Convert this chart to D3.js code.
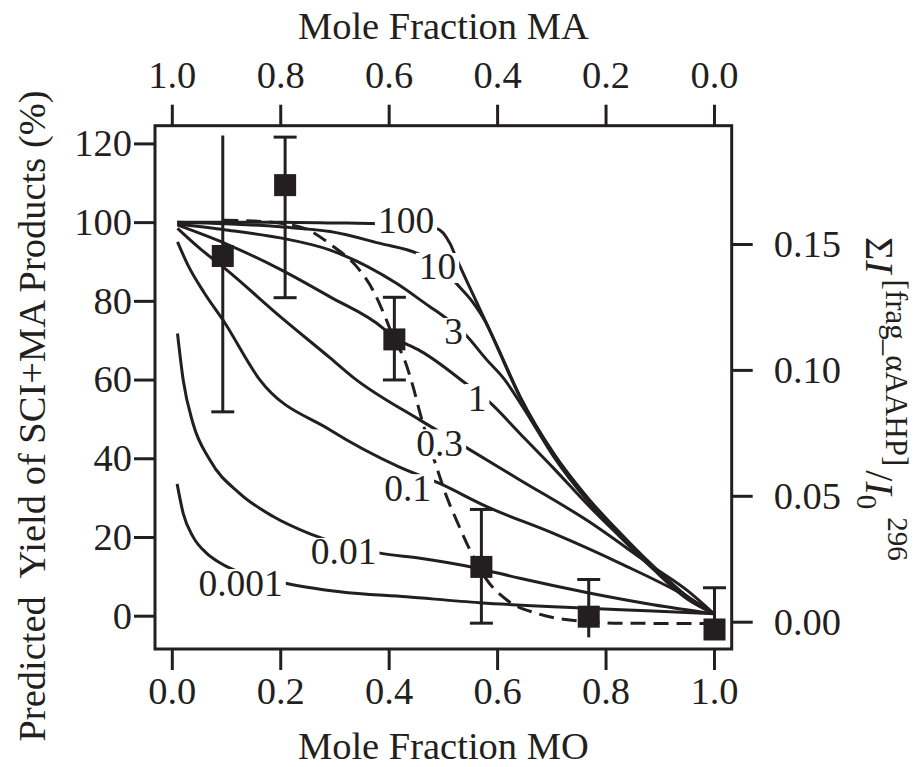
<!DOCTYPE html>
<html>
<head>
<meta charset="utf-8">
<script src="https://cdn.jsdelivr.net/npm/d3@7"></script>
<style>
  html, body { margin: 0; padding: 0; background: #fff; }
  svg text { font-family: "Liberation Serif", "Times New Roman", serif; fill: #231f20; }
</style>
</head>
<body>
<svg id="chart" width="914" height="767"></svg>
<script>
// ---------- data ----------
const xTicksMO = [0.0, 0.2, 0.4, 0.6, 0.8, 1.0];
const xTicksMA = [1.0, 0.8, 0.6, 0.4, 0.2, 0.0];
const yTicksLeft = [0, 20, 40, 60, 80, 100, 120];
const yTicksRight = [0.00, 0.05, 0.10, 0.15];

// measured yields (squares) with error bars
const ptMO   = [0.094, 0.209, 0.4105, 0.571, 0.769, 1.001];
const ptVal  = [91.4, 109.4, 70.2, 12.4, -0.25, -3.5];
const ptHi   = [122.0, 121.6, 80.9, 27.0, 9.2, 7.1];
const ptLo   = [51.8, 80.8, 59.9, -1.9, -5.5, -3.5];
const ptCapHi = [false, true, true, true, true, true];
const ptCapLo = [true, true, true, true, false, false];

// model curves: parameter label, MO values, yields
const curveNames = ["100", "10", "3", "1", "0.3", "0.1", "0.01", "0.001"];
const c100x = [0.01, 0.1, 0.2, 0.3, 0.38, 0.488, 0.513, 0.525, 0.556, 0.6, 0.642, 0.704, 0.765, 0.827, 0.888, 0.95, 1.0];
const c100y = [100, 100, 100, 99.8, 99.6, 98.4, 94.6, 90.8, 81.5, 68.5, 55.8, 41.3, 30.3, 21.0, 12.6, 5.0, 0.5];
const c10x = [0.01, 0.1, 0.2, 0.292, 0.384, 0.454, 0.5, 0.525, 0.556, 0.58, 0.6, 0.642, 0.704, 0.765, 0.827, 0.888, 0.95, 1.0];
const c10y = [100, 99.6, 98.8, 97.6, 94.6, 92.0, 88.5, 84.4, 79.5, 74.3, 68.3, 55.6, 41.1, 30.1, 20.8, 12.4, 4.9, 0.5];
const c3x = [0.01, 0.1, 0.2, 0.292, 0.415, 0.476, 0.498, 0.541, 0.581, 0.611, 0.65, 0.704, 0.765, 0.827, 0.888, 0.95, 1.0];
const c3y = [99.5, 98.0, 96.0, 92.9, 84.4, 78.5, 76.4, 71.5, 65.0, 60.5, 52.5, 40.5, 29.5, 20.3, 12.0, 4.7, 0.5];
const c1x = [0.01, 0.1, 0.2, 0.292, 0.39, 0.41, 0.433, 0.458, 0.544, 0.584, 0.642, 0.704, 0.765, 0.827, 0.888, 0.95, 1.0];
const c1y = [99.3, 94.5, 88.0, 81.0, 73.0, 70.5, 69.0, 67.3, 58.8, 54.5, 46.3, 37.5, 28.5, 20.0, 11.8, 4.3, 0.5];
const c03x = [0.0105, 0.05, 0.1, 0.2, 0.292, 0.335, 0.458, 0.541, 0.642, 0.765, 0.888, 0.95, 1.0];
const c03y = [98.4, 93.5, 88.0, 76.0, 65.5, 60.5, 49.7, 42.9, 34.5, 24.3, 12.4, 6.5, 0.5];
const c01x = [0.0105, 0.03, 0.06, 0.095, 0.162, 0.292, 0.418, 0.494, 0.581, 0.704, 0.827, 0.95, 1.0];
const c01y = [95.0, 89.0, 82.0, 75.0, 60.0, 47.2, 37.9, 33.6, 27.7, 20.9, 13.3, 4.8, 0.5];
const c001x = [0.0105, 0.021, 0.039, 0.070, 0.125, 0.187, 0.255, 0.384, 0.458, 0.559, 0.642, 0.765, 0.888, 1.0];
const c001y = [71.7, 59.9, 48.9, 39.6, 31.1, 25.2, 20.8, 15.9, 14.6, 12.2, 9.5, 5.9, 2.8, 0.5];
const c0001x = [0.0098, 0.021, 0.039, 0.064, 0.0855, 0.212, 0.31, 0.433, 0.568, 0.765, 0.888, 1.0];
const c0001y = [33.5, 26.0, 20.1, 15.9, 13.7, 8.2, 6.1, 4.8, 3.3, 1.9, 1.2, 0.5];

// curve label positions (data coordinates)
const labelMO = [0.432, 0.49, 0.52, 0.563, 0.494, 0.435, 0.317, 0.127];
const labelVal = [100.5, 88.6, 72.1, 55.3, 43.8, 32.4, 16.2, 8.3];

// dashed fit curve through the measurements
const dashX = [0.095, 0.15, 0.236, 0.298, 0.341, 0.371, 0.396, 0.41, 0.427, 0.445, 0.458, 0.488, 0.507, 0.525, 0.544, 0.559, 0.581, 0.618, 0.673, 0.734, 0.827, 1.0];
const dashY = [100.5, 100.3, 98.8, 93.8, 88.7, 82.7, 75.1, 70.2, 65.8, 58.2, 51.4, 37.9, 30.2, 24.3, 18.4, 14.2, 9.1, 4.0, 0.6, -1.1, -1.9, -2.0];

// ---------- drawing ----------
const svg = d3.select("#chart");
const ink = "#231f20";
const FS = 38.5;
const L = 155, R = 731.7, T = 125.7, B = 649;

const x = d3.scaleLinear().domain([-0.031, 1.0327]).range([L, R]);
const xTop = d3.scaleLinear().domain([1.031, -0.0327]).range([L, R]);
const y = d3.scaleLinear().domain([-8.46, 124.5]).range([B, T]);
const yR = d3.scaleLinear().domain([0, 0.15]).range([621.7, 244]);

function styleAxis(g) {
  g.select(".domain").remove();
  g.selectAll(".tick line").attr("stroke", ink).attr("stroke-width", 3);
  g.selectAll(".tick text").attr("font-size", FS).attr("fill", ink)
    .style("font-family", "Liberation Serif");
}

svg.append("g").attr("transform", `translate(${L},0)`)
  .call(d3.axisLeft(y).tickValues(yTicksLeft).tickSize(21).tickPadding(2).tickFormat(d3.format("d")))
  .call(styleAxis);
svg.append("g").attr("transform", `translate(0,${B})`)
  .call(d3.axisBottom(x).tickValues(xTicksMO).tickSize(21).tickPadding(7).tickFormat(d3.format(".1f")))
  .call(styleAxis);
svg.append("g").attr("transform", `translate(0,${T})`)
  .call(d3.axisTop(xTop).tickValues(xTicksMA).tickSize(21).tickPadding(17).tickFormat(d3.format(".1f")))
  .call(styleAxis);
svg.append("g").attr("transform", `translate(${R},0)`)
  .call(d3.axisRight(yR).tickValues(yTicksRight).tickSize(21).tickPadding(21).tickFormat(d3.format(".2f")))
  .call(styleAxis);

// plot frame
svg.append("rect").attr("x", L).attr("y", T).attr("width", R - L).attr("height", B - T)
  .attr("fill", "none").attr("stroke", ink).attr("stroke-width", 3);

const plot = svg.append("g");
const line = d3.line().x(d => x(d[0])).y(d => y(d[1])).curve(d3.curveMonotoneX);

const curves = [
  [c100x, c100y], [c10x, c10y], [c3x, c3y], [c1x, c1y],
  [c03x, c03y], [c01x, c01y], [c001x, c001y], [c0001x, c0001y]
];
curves.forEach(([xs, ys]) => {
  plot.append("path").datum(xs.map((v, i) => [v, ys[i]]))
    .attr("d", line).attr("fill", "none").attr("stroke", ink)
    .attr("stroke-width", 3).attr("stroke-linejoin", "round");
});

plot.append("path").datum(dashX.map((v, i) => [v, dashY[i]]))
  .attr("d", line).attr("fill", "none").attr("stroke", ink)
  .attr("stroke-width", 3).attr("stroke-dasharray", "15,8");

// curve labels with white background boxes
curveNames.forEach((name, i) => {
  const g = plot.append("g");
  const t = g.append("text")
    .attr("x", x(labelMO[i])).attr("y", y(labelVal[i]) + 12.5)
    .attr("text-anchor", "middle").attr("font-size", FS - 1).text(name);
  const bb = t.node().getBBox();
  g.insert("rect", "text")
    .attr("x", bb.x - 3).attr("width", bb.width + 6)
    .attr("y", y(labelVal[i]) - 14).attr("height", 30)
    .attr("fill", "#fff");
});

// error bars and squares
const capW = 11.5, sq = 22;
ptMO.forEach((m, i) => {
  const cx = x(m);
  plot.append("line").attr("x1", cx).attr("x2", cx)
    .attr("y1", y(ptHi[i])).attr("y2", y(ptLo[i]))
    .attr("stroke", ink).attr("stroke-width", 3);
  if (ptCapHi[i]) plot.append("line").attr("x1", cx - capW).attr("x2", cx + capW)
    .attr("y1", y(ptHi[i])).attr("y2", y(ptHi[i])).attr("stroke", ink).attr("stroke-width", 3);
  if (ptCapLo[i]) plot.append("line").attr("x1", cx - capW).attr("x2", cx + capW)
    .attr("y1", y(ptLo[i])).attr("y2", y(ptLo[i])).attr("stroke", ink).attr("stroke-width", 3);
  plot.append("rect").attr("x", cx - sq / 2).attr("y", y(ptVal[i]) - sq / 2)
    .attr("width", sq).attr("height", sq).attr("fill", ink);
});

// axis titles
svg.append("text").attr("x", (L + R) / 2).attr("y", 39).attr("text-anchor", "middle")
  .attr("font-size", FS).text("Mole Fraction MA");
svg.append("text").attr("x", (L + R) / 2).attr("y", 759).attr("text-anchor", "middle")
  .attr("font-size", FS).text("Mole Fraction MO");
svg.append("text").attr("transform", "translate(45,416) rotate(-90)")
  .attr("text-anchor", "middle").attr("font-size", FS).style("white-space", "pre")
  .text("Predicted  Yield of SCI+MA Products (%)");

// right title: ΣI^[frag_αAAHP] / I_0^296
const rt = svg.append("text").attr("transform", "translate(866,237) rotate(90)")
  .attr("font-size", 40);
rt.append("tspan").text("Σ");
rt.append("tspan").attr("font-style", "italic").text("I");
rt.append("tspan").attr("font-size", 31).attr("dy", -20).attr("dx", 6).text("[frag_αAAHP]");
rt.append("tspan").attr("dy", 20).attr("dx", 4).text("/");
rt.append("tspan").attr("font-style", "italic").text("I");
rt.append("tspan").attr("font-size", 29).attr("dy", 9).text("0");
rt.append("tspan").attr("font-size", 29).attr("dy", -31).attr("dx", 8).text("296");
</script>
</body>
</html>
